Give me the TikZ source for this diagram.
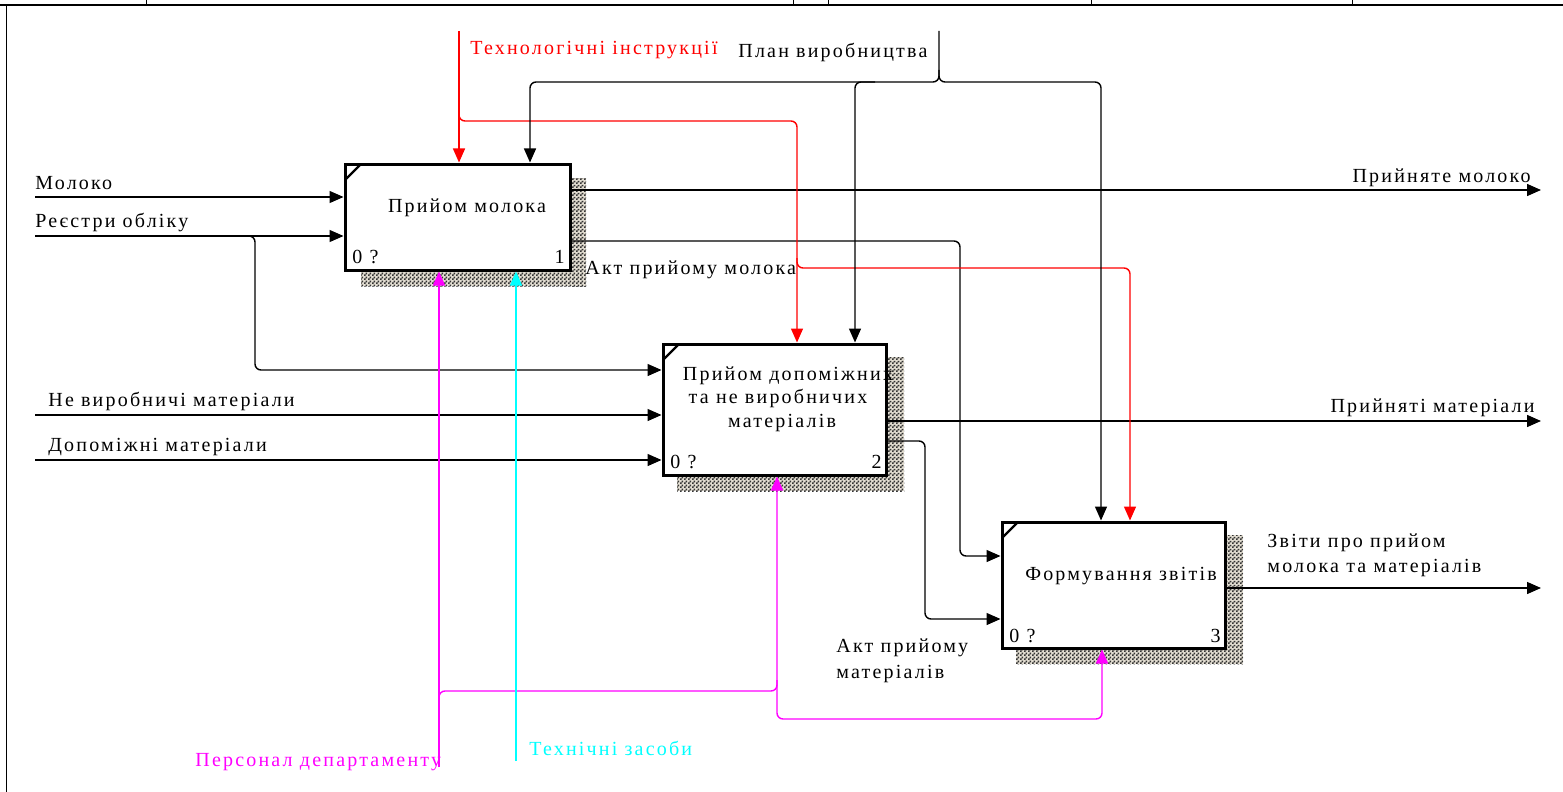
\documentclass[tikz,border=0pt]{standalone}
\usepackage{fontspec}
\setmainfont{Liberation Serif}[LetterSpace=11]
\usetikzlibrary{arrows.meta,patterns}
\pgfdeclarepatternformonly{idefchk}{\pgfqpoint{0pt}{0pt}}{\pgfqpoint{2pt}{2pt}}{\pgfqpoint{2pt}{2pt}}{%
  \pgfpathrectangle{\pgfqpoint{0pt}{0pt}}{\pgfqpoint{1pt}{1pt}}%
  \pgfpathrectangle{\pgfqpoint{1pt}{1pt}}{\pgfqpoint{1pt}{1pt}}%
  \pgfusepath{fill}}
\definecolor{cred}{RGB}{255,0,0}
\definecolor{cmag}{RGB}{255,0,255}
\definecolor{ccyan}{RGB}{0,255,255}
\definecolor{shbg}{RGB}{225,220,208}
\tikzset{
  box/.style={draw, line width=1.5pt, fill=white, inner sep=0pt},
  con/.style={line width=0.7pt, rounded corners=3pt},
  arr/.style={con, -{Triangle[length=7pt,width=6pt]}},
  lbl/.style={inner sep=0pt, font=\fontsize{10}{12}\selectfont},
  shadowfill/.style={fill=shbg},
  shadowpat/.style={pattern=idefchk, pattern color=black!80},
  frame/.style={line width=0.5pt},
  tick/.style={line width=1.2pt}
}
\begin{document}
\begin{tikzpicture}[x=0.5pt,y=-0.5pt]
\useasboundingbox (0,0) rectangle (1563,792);
% page frame
\draw[line width=1pt] (0,5) -- (1563,5);
\draw[frame] (6,5) -- (6,792);
\foreach \x in {146,793,828,1091,1352} \draw[frame] (\x,0) -- (\x,5);
% shadows
\foreach \a/\b/\c/\d in {572/178/586/286, 361/272/586/286, 888/357/904/491, 677/477/904/491, 1227/535/1243/664, 1016/650/1243/664}{
  \fill[shadowfill] (\a,\b) rectangle (\c,\d);
  \fill[shadowpat] (\a,\b) rectangle (\c,\d);
}
% boxes
\node[box, minimum width=112.5pt, minimum height=53pt] (b1) at (457.5,217) {};
\node[box, minimum width=111.5pt, minimum height=65.5pt] (b2) at (774.5,409.5) {};
\node[box, minimum width=111.5pt, minimum height=63pt] (b3) at (1113.5,585) {};
\draw[tick] (345,180) -- (361,164);
\draw[tick] (663,360) -- (679,344);
\draw[tick] (1002,538) -- (1018,522);
% box texts
\node[lbl, anchor=base] (t1) at (467,212) {Прийом молока};
\node[lbl, anchor=base] (t2a) at (788,380) {Прийом допоміжних};
\node[lbl, anchor=base] (t2b) at (778,403) {та не виробничих};
\node[lbl, anchor=base] (t2c) at (782,427) {матеріалів};
\node[lbl, anchor=base] (t3) at (1121,580) {Формування звітів};
\node[lbl, anchor=base west] (n1a) at (352,263) {0 ?};
\node[lbl, anchor=base east] (n1b) at (565,263) {1};
\node[lbl, anchor=base west] (n2a) at (670,468) {0 ?};
\node[lbl, anchor=base east] (n2b) at (882,468) {2};
\node[lbl, anchor=base west] (n3a) at (1009,642) {0 ?};
\node[lbl, anchor=base east] (n3b) at (1221,642) {3};
% inputs
\coordinate (mIn) at (35,197);
\draw[arr] (mIn) -- (mIn -| b1.west);
\node[lbl, anchor=base west] (lm) at (35,189) {Молоко};
\coordinate (rIn) at (35,236);
\draw[arr] (rIn) -- (rIn -| b1.west);
\node[lbl, anchor=base west] (lr) at (35,227) {Реєстри обліку};
\coordinate (rBr) at (245,236);
\draw[arr] (rBr) -| (255,370) -- (b2.west |- 255,370);
\coordinate (nIn) at (35,415);
\draw[arr] (nIn) -- (nIn -| b2.west);
\node[lbl, anchor=base west] (ln) at (48,406) {Не виробничі матеріали};
\coordinate (dIn) at (35,460);
\draw[arr] (dIn) -- (dIn -| b2.west);
\node[lbl, anchor=base west] (ld) at (48,451) {Допоміжні матеріали};
% outputs
\coordinate (oM) at (1541,190);
\draw[arr] (b1.east |- oM) -- (oM);
\node[lbl, anchor=base east] (lom) at (1531,182) {Прийняте молоко};
\draw[arr] (b1.east |- 570,241) -- (960,241) -- (960,556) -- (b3.west |- 960,556);
\node[lbl, anchor=base west] (lam) at (585,274) {Акт прийому молока};
\coordinate (oMat) at (1541,421);
\draw[arr] (b2.east |- oMat) -- (oMat);
\node[lbl, anchor=base east] (lomat) at (1535,412) {Прийняті матеріали};
\draw[arr] (b2.east |- 886,441) -- (925,441) -- (925,619) -- (b3.west |- 925,619);
\node[lbl, anchor=base west] (lamat1) at (836,652) {Акт прийому};
\node[lbl, anchor=base west] (lamat2) at (836,678) {матеріалів};
\coordinate (oZ) at (1541,588);
\draw[arr] (b3.east |- oZ) -- (oZ);
\node[lbl, anchor=base west] (lz1) at (1267,547) {Звіти про прийом};
\node[lbl, anchor=base west] (lz2) at (1267,572) {молока та матеріалів};
% controls
\coordinate (cT) at (459,31);
\draw[arr, cred] (cT) -- (cT |- b1.north);
\draw[arr, cred] (459,108) |- (797,121) -- (b2.north -| 797,121);
\draw[arr, cred] (797,258) |- (1130,268) -- (b3.north -| 1130,268);
\node[lbl, anchor=base west, text=cred] (lt) at (470,55) {Технологічні інструкції};
\coordinate (cP) at (939,31);
\draw[arr] (cP) |- (530,82) -- (b1.north -| 530,82);
\draw[arr] (939,70) |- (1101,82) -- (b3.north -| 1101,82);
\draw[arr] (875,82) -| (b2.north -| 855,82);
\node[lbl, anchor=base west] (lp) at (738,58) {План виробництва};
% mechanisms
\coordinate (mP) at (439,767);
\draw[arr, cmag] (mP) -- (mP |- b1.south);
\draw[arr, cmag] (439,700) |- (777,691) -- (b2.south -| 777,691);
\draw[arr, cmag] (777,680) -- (777,719) -- (1102,719) -- (b3.south -| 1102,719);
\node[lbl, anchor=base west, text=cmag] (lpd) at (195,766) {Персонал департаменту};
\coordinate (mT) at (516,761);
\draw[arr, ccyan] (mT) -- (mT |- b1.south);
\node[lbl, anchor=base west, text=ccyan] (ltz) at (529,755) {Технічні засоби};
\end{tikzpicture}
\end{document}
